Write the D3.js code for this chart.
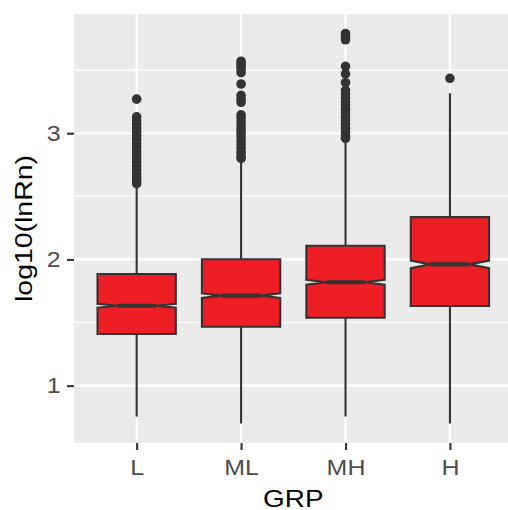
<!DOCTYPE html>
<html>
<head>
<meta charset="utf-8">
<script src="https://cdn.jsdelivr.net/npm/d3@7"></script>
<style>
  body { margin: 0; background: #fff; }
  svg { display: block; font-family: "Liberation Sans", Arial, sans-serif; }
</style>
</head>
<body>
<div class="box"></div>
<script>
// values
var groups = ["L", "ML", "MH", "H"];
var q1 = [1.409, 1.467, 1.538, 1.631];
var medians = [1.633, 1.713, 1.819, 1.961];
var q3 = [1.884, 2.001, 2.108, 2.335];
var notchLow = [1.617, 1.694, 1.799, 1.931];
var notchHigh = [1.649, 1.732, 1.839, 1.991];
var whiskerLow = [0.755, 0.70, 0.755, 0.70];
var whiskerHigh = [2.58, 2.78, 2.94, 3.317];
var outliersL = [3.27, 3.13, 3.10, 3.07, 3.04, 3.01, 2.98, 2.95, 2.92, 2.89, 2.86, 2.83, 2.80, 2.77, 2.74, 2.71, 2.68, 2.65, 2.62, 2.60];
var outliersML = [3.57, 3.55, 3.53, 3.51, 3.48, 3.39, 3.30, 3.27, 3.245, 3.145, 3.12, 3.09, 3.06, 3.03, 3.00, 2.97, 2.94, 2.91, 2.88, 2.85, 2.82, 2.80];
var outliersMH = [3.79, 3.765, 3.74, 3.53, 3.47, 3.40, 3.34, 3.31, 3.28, 3.25, 3.22, 3.19, 3.16, 3.13, 3.10, 3.07, 3.04, 3.01, 2.98, 2.96];
var outliersH = [3.435];
var yTicks = [1, 2, 3];
var yMinor = [1.5, 2.5, 3.5];

var outliers = [outliersL, outliersML, outliersMH, outliersH];
var data = groups.map(function (g, i) {
    return {
        grp: g, q1: q1[i], med: medians[i], q3: q3[i],
        nlo: notchLow[i], nhi: notchHigh[i],
        wlo: whiskerLow[i], whi: whiskerHigh[i], out: outliers[i]
    };
});

width = 508;
height = 510;
margin = { top: 14, right: -4.6, bottom: 67, left: 74 };

// ggplot style 5% expansion of the data range
var allVals = [].concat(whiskerLow, whiskerHigh, outliersL, outliersML, outliersMH, outliersH);
var ext = d3.extent(allVals);
var pad = (ext[1] - ext[0]) * 0.05;

var x = d3.scalePoint(groups, [margin.left, width - margin.right]).padding(0.6);
var y = d3.scaleLinear()
    .domain([ext[0] - pad, ext[1] + pad])
    .range([height - margin.bottom, margin.top]);

var step = x.step();
var boxW = step * 0.75;

const svg = d3.create("svg")
    .attr("width", width)
    .attr("height", height)
    .attr("viewBox", [0, 0, width, height]);

// panel
svg.append("rect")
    .attr("x", margin.left)
    .attr("y", margin.top)
    .attr("width", width - margin.right - margin.left)
    .attr("height", height - margin.bottom - margin.top)
    .attr("fill", "#EBEBEB");

var grid = svg.append("g").attr("stroke", "#fff");
grid.selectAll(".minor")
    .data(yMinor)
    .join("line")
    .attr("x1", margin.left).attr("x2", width - margin.right)
    .attr("y1", d => y(d)).attr("y2", d => y(d))
    .attr("stroke-width", 1.1);
grid.selectAll(".majorY")
    .data(yTicks)
    .join("line")
    .attr("x1", margin.left).attr("x2", width - margin.right)
    .attr("y1", d => y(d)).attr("y2", d => y(d))
    .attr("stroke-width", 2.1);
grid.selectAll(".majorX")
    .data(groups)
    .join("line")
    .attr("x1", d => x(d)).attr("x2", d => x(d))
    .attr("y1", margin.top).attr("y2", height - margin.bottom)
    .attr("stroke-width", 2.1);

var boxes = svg.append("g")
    .selectAll("g")
    .data(data)
    .join("g")
    .attr("transform", d => `translate(${x(d.grp)},0)`);

// outliers
boxes.selectAll("circle")
    .data(d => d.out)
    .join("circle")
    .attr("cx", 0)
    .attr("cy", d => y(d))
    .attr("r", 4.8)
    .attr("fill", "#333333");

// whiskers
boxes.append("line")
    .attr("y1", d => y(d.q3)).attr("y2", d => y(d.whi))
    .attr("stroke", "#333333").attr("stroke-width", 2.1);
boxes.append("line")
    .attr("y1", d => y(d.q1)).attr("y2", d => y(d.wlo))
    .attr("stroke", "#333333").attr("stroke-width", 2.1);

// notched box
var h = boxW / 2, ind = boxW / 4;
boxes.append("path")
    .attr("d", function (d) {
        var pts = [
            [-h, y(d.q3)], [-h, y(d.nhi)], [-h + ind, y(d.med)], [-h, y(d.nlo)],
            [-h, y(d.q1)], [h, y(d.q1)], [h, y(d.nlo)], [h - ind, y(d.med)],
            [h, y(d.nhi)], [h, y(d.q3)]
        ];
        return d3.line()(pts) + "Z";
    })
    .attr("fill", "#ED1F24")
    .attr("stroke", "#333333")
    .attr("stroke-width", 2.1)
    .attr("stroke-linejoin", "miter");

// median
boxes.append("line")
    .attr("x1", -h + ind).attr("x2", h - ind)
    .attr("y1", d => y(d.med)).attr("y2", d => y(d.med))
    .attr("stroke", "#333333").attr("stroke-width", 4.2);

// axes
var yAxis = svg.append("g")
    .attr("transform", `translate(${margin.left},0)`)
    .call(d3.axisLeft(y).tickValues(yTicks).tickSize(7).tickPadding(6.5).tickFormat(d3.format("d")));
var xAxis = svg.append("g")
    .attr("transform", `translate(0,${height - margin.bottom})`)
    .call(d3.axisBottom(x).tickSize(7).tickPadding(9.5));

[yAxis, xAxis].forEach(function (a) {
    a.select(".domain").remove();
    a.selectAll(".tick line").attr("stroke", "#333333").attr("stroke-width", 2.1);
    a.selectAll(".tick text")
        .attr("fill", "#4D4D4D")
        .attr("font-size", 21.5)
        .attr("font-family", "Liberation Sans, Arial, sans-serif");
});

svg.append("text")
    .attr("x", (margin.left + width - margin.right) / 2)
    .attr("y", 506.5)
    .attr("text-anchor", "middle")
    .attr("font-size", 24)
    .attr("fill", "#000")
    .text("GRP");

svg.append("text")
    .attr("transform", `translate(32,${(margin.top + height - margin.bottom) / 2}) rotate(-90)`)
    .attr("text-anchor", "middle")
    .attr("font-size", 24.5)
    .attr("fill", "#000")
    .text("log10(lnRn)");

var box = document.querySelector('.box');
box.appendChild(svg.node());

// the reference text runs a little wider than Liberation Sans
svg.selectAll("text").each(function () {
    var len = this.getComputedTextLength();
    d3.select(this)
        .attr("textLength", len * 1.16)
        .attr("lengthAdjust", "spacingAndGlyphs");
});
</script>
</body>
</html>
